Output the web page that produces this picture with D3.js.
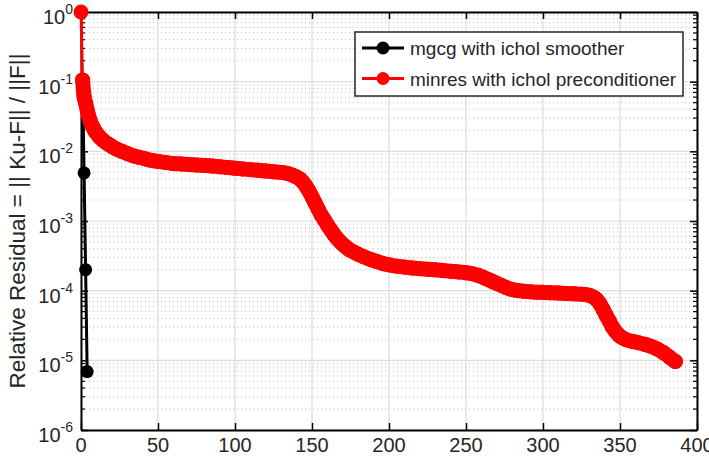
<!DOCTYPE html>
<html><head><meta charset="utf-8">
<script src="https://cdn.jsdelivr.net/npm/d3@7"></script>
<style>
body{margin:0;background:#fff;}
text{font-family:"Liberation Sans",Arial,Helvetica,sans-serif;fill:#262626;}
</style>
</head><body><svg id="chart" width="709" height="468"></svg>
<script>
const xTickValues = [0, 50, 100, 150, 200, 250, 300, 350, 400];
const yTickExponents = [-6, -5, -4, -3, -2, -1, 0];
const seriesNames = ["mgcg with ichol smoother", "minres with ichol preconditioner"];
const yAxisLabel = "Relative Residual = || Ku-F|| / ||F||";

const mgcgIter = [1, 2, 3, 4];
const mgcgResidual = [0.09, 4.9e-3, 2.0e-4, 6.9e-6];

const minresIter = [0,1,2,3,4,5,6,7,8,9,10,12,14,16,18,20,23,26,30,34,38,42,46,50,55,60,65,70,75,80,85,90,95,100,105,110,115,120,125,130,134,137,140,142,144,146,148,150,152,154,156,158,160,162,164,166,168,170,172,174,177,180,184,188,192,196,200,205,210,215,220,225,230,235,240,245,250,254,258,261,264,267,270,273,276,280,284,288,292,296,300,305,310,315,320,325,328,331,333,335,337,339,341,343,345,347,349,351,354,358,362,366,370,374,378,382,386];
const minresResidual = [1,0.106,0.0609,0.0495,0.0393,0.0322,0.0273,0.0239,0.0217,0.0196,0.0184,0.0161,0.0146,0.0134,0.0126,0.0118,0.0108,0.0101,0.00933,0.00859,0.00818,0.00778,0.00740,0.00716,0.00693,0.00670,0.00659,0.00649,0.00638,0.00628,0.00617,0.00601,0.00587,0.00572,0.00559,0.00546,0.00535,0.00523,0.00510,0.00498,0.00482,0.00459,0.00429,0.00402,0.00364,0.00319,0.00270,0.00222,0.00182,0.00149,0.00122,0.00104,0.000879,0.000758,0.000653,0.000572,0.000510,0.000462,0.000425,0.000391,0.000360,0.000332,0.000305,0.000281,0.000263,0.000246,0.000235,0.000225,0.000218,0.000212,0.000207,0.000203,0.000199,0.000195,0.000190,0.000186,0.000181,0.000175,0.000166,0.000156,0.000146,0.000136,0.000127,0.000119,0.000111,0.000104,0.000100,9.77e-5,9.61e-5,9.52e-5,9.46e-5,9.36e-5,9.24e-5,9.12e-5,9.00e-5,8.91e-5,8.76e-5,8.42e-5,8.01e-5,7.38e-5,6.46e-5,5.39e-5,4.42e-5,3.69e-5,3.02e-5,2.61e-5,2.32e-5,2.14e-5,1.98e-5,1.87e-5,1.79e-5,1.70e-5,1.59e-5,1.46e-5,1.30e-5,1.12e-5,9.6e-6];

const seriesColors = ["#000000", "#ff0000"];

const plot = {left: 81, right: 697, top: 12, bottom: 430};
const svg = d3.select("#chart");

const x = d3.scaleLinear().domain([0, 400]).range([plot.left, plot.right]);
const y = d3.scaleLog().domain([1e-6, 1]).range([plot.bottom, plot.top]);

const minorVals = [];
yTickExponents.slice(0, -1).forEach(e => {
  for (let k = 2; k <= 9; k++) minorVals.push(k * Math.pow(10, e));
});
const majorVals = yTickExponents.map(e => Math.pow(10, e));

// grid
const grid = svg.append("g");
grid.selectAll(".minor").data(minorVals).enter().append("line")
  .attr("x1", plot.left).attr("x2", plot.right)
  .attr("y1", d => y(d)).attr("y2", d => y(d))
  .attr("stroke", "#bdbdbd").attr("stroke-width", 1).attr("stroke-dasharray", "1,3");
grid.selectAll(".hmaj").data(majorVals).enter().append("line")
  .attr("x1", plot.left).attr("x2", plot.right)
  .attr("y1", d => y(d)).attr("y2", d => y(d))
  .attr("stroke", "#dcdcdc").attr("stroke-width", 1.2);
grid.selectAll(".vmaj").data(xTickValues).enter().append("line")
  .attr("y1", plot.top).attr("y2", plot.bottom)
  .attr("x1", d => x(d)).attr("x2", d => x(d))
  .attr("stroke", "#dcdcdc").attr("stroke-width", 1.2);

// axes (ticks inward)
function styleAxis(g) {
  g.select(".domain").attr("stroke", "#000").attr("stroke-width", 2);
  g.selectAll(".tick line").attr("stroke", "#000").attr("stroke-width", 1.5);
  g.selectAll(".tick text").remove();
}
svg.append("g").attr("transform", `translate(0,${plot.bottom})`)
  .call(d3.axisBottom(x).tickValues(xTickValues).tickSizeInner(-7).tickSizeOuter(0).tickFormat(""))
  .call(styleAxis);
svg.append("g").attr("transform", `translate(0,${plot.top})`)
  .call(d3.axisTop(x).tickValues(xTickValues).tickSizeInner(-7).tickSizeOuter(0).tickFormat(""))
  .call(styleAxis);
svg.append("g").attr("transform", `translate(${plot.left},0)`)
  .call(d3.axisLeft(y).tickValues(majorVals).tickSizeInner(-7).tickSizeOuter(0).tickFormat(""))
  .call(styleAxis);
svg.append("g").attr("transform", `translate(${plot.right},0)`)
  .call(d3.axisRight(y).tickValues(majorVals).tickSizeInner(-7).tickSizeOuter(0).tickFormat(""))
  .call(styleAxis);
[[plot.left, 1], [plot.right, -1]].forEach(([xx, dir]) => {
  svg.append("g").selectAll("line").data(minorVals).enter().append("line")
    .attr("x1", xx).attr("x2", xx + dir * 4)
    .attr("y1", d => y(d)).attr("y2", d => y(d))
    .attr("stroke", "#000").attr("stroke-width", 1.2);
});

// tick labels
svg.append("g").selectAll("text").data(xTickValues).enter().append("text")
  .attr("x", d => x(d)).attr("y", 452)
  .attr("text-anchor", "middle").attr("font-size", 20)
  .text(d => d);
const yl = svg.append("g").selectAll("text").data(yTickExponents).enter().append("text")
  .attr("x", 73).attr("y", d => y(Math.pow(10, d)) + 12)
  .attr("text-anchor", "end").attr("font-size", 20);
yl.append("tspan").text("10");
yl.append("tspan").attr("dy", -10).attr("font-size", 14).text(d => d === 0 ? "0" : "-" + Math.abs(d));

// y axis label
svg.append("text")
  .attr("transform", `translate(25,${(plot.top + plot.bottom) / 2}) rotate(-90)`)
  .attr("text-anchor", "middle").attr("font-size", 22.5)
  .text(yAxisLabel);

// data
const R = 7.5;
const line = d3.line().x(d => x(d[0])).y(d => y(d[1]));
const mgcgData = mgcgIter.map((v, i) => [v, mgcgResidual[i]]);
const minresData = minresIter.map((v, i) => [v, minresResidual[i]]);

// black series
svg.append("path").datum(mgcgData).attr("d", line)
  .attr("fill", "none").attr("stroke", seriesColors[0]).attr("stroke-width", 3)
  .attr("stroke-linejoin", "round");
svg.append("g").selectAll("circle").data(mgcgData).enter().append("circle")
  .attr("cx", d => x(d[0])).attr("cy", d => y(d[1])).attr("r", 6.5)
  .attr("fill", seriesColors[0]);

// red series: thin line, overlapping marker trail, markers
svg.append("path").datum(minresData).attr("d", line)
  .attr("fill", "none").attr("stroke", seriesColors[1]).attr("stroke-width", 3)
  .attr("stroke-linejoin", "round");
svg.append("path").datum(minresData.slice(1)).attr("d", line.curve(d3.curveMonotoneX))
  .attr("fill", "none").attr("stroke", seriesColors[1]).attr("stroke-width", 2 * R)
  .attr("stroke-linejoin", "round").attr("stroke-linecap", "round");
svg.append("g").selectAll("circle").data(minresData).enter().append("circle")
  .attr("cx", d => x(d[0])).attr("cy", d => y(d[1])).attr("r", R)
  .attr("fill", seriesColors[1]);

// legend
const lg = svg.append("g");
lg.append("rect").attr("x", 355).attr("y", 32).attr("width", 328).attr("height", 64)
  .attr("fill", "#fff").attr("stroke", "#262626").attr("stroke-width", 1.5);
seriesNames.forEach((name, i) => {
  const cy = 48 + i * 30.5;
  lg.append("line").attr("x1", 362).attr("x2", 404).attr("y1", cy).attr("y2", cy)
    .attr("stroke", seriesColors[i]).attr("stroke-width", 3);
  lg.append("circle").attr("cx", 383).attr("cy", cy).attr("r", 6.5).attr("fill", seriesColors[i]);
  lg.append("text").attr("x", 410).attr("y", cy + 7).attr("font-size", 19).text(name);
});
</script>
</body></html>
